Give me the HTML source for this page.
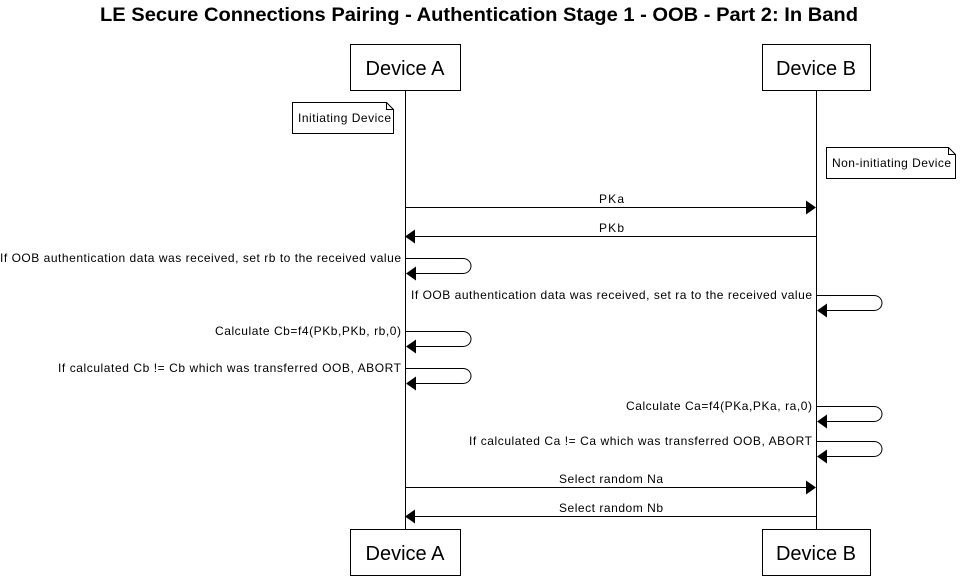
<!DOCTYPE html>
<html><head><style>body{margin:0;background:#fff}</style></head><body>
<svg width="968" height="577" xmlns="http://www.w3.org/2000/svg" font-family="Liberation Sans, Arial, sans-serif">
<rect width="968" height="577" fill="#fff"/>
<text x="100" y="21" font-size="19" font-weight="bold" textLength="758" lengthAdjust="spacingAndGlyphs">LE Secure Connections Pairing - Authentication Stage 1 - OOB - Part 2: In Band</text>
<g stroke="#000" fill="none" stroke-width="1">
<line x1="405.5" y1="90" x2="405.5" y2="529"/>
<line x1="816.5" y1="90" x2="816.5" y2="529"/>
<rect x="350.5" y="44.5" width="110" height="46" fill="#fff"/>
<rect x="762.5" y="44.5" width="108" height="46" fill="#fff"/>
<rect x="350.5" y="529.5" width="110" height="46" fill="#fff"/>
<rect x="762.5" y="529.5" width="108" height="46" fill="#fff"/>
<path d="M292.5 102.5H386.5L393.5 109.5V133.5H292.5Z M386.5 102.5V109.5H393.5" fill="#fff"/>
<path d="M826.5 147.5H948.5L955.5 154.5V178.5H826.5Z M948.5 147.5V154.5H955.5" fill="#fff"/>
<line x1="405" y1="207.5" x2="806" y2="207.5"/>
<line x1="816" y1="236.5" x2="415" y2="236.5"/>
<line x1="405" y1="487.5" x2="806" y2="487.5"/>
<line x1="816" y1="516.5" x2="415" y2="516.5"/>
<path d="M405 258.5H463a8 7.5 0 0 1 0 15H414"/>
<path d="M816 295.5H874a8 7.5 0 0 1 0 15H825"/>
<path d="M405 331.5H463a8 7.5 0 0 1 0 15H414"/>
<path d="M405 368.5H463a8 7.5 0 0 1 0 15H414"/>
<path d="M816 406.5H874a8 7.5 0 0 1 0 15H825"/>
<path d="M816 441.5H874a8 7.5 0 0 1 0 15H825"/>
</g>
<g fill="#000">
<path d="M816 207.5L806 200.5V214.5Z"/>
<path d="M405 236.5L415 229.5V243.5Z"/>
<path d="M816 487.5L806 480.5V494.5Z"/>
<path d="M405 516.5L415 509.5V523.5Z"/>
<path d="M406 273.5L416 266.5V280.5Z"/>
<path d="M817 310.5L827 303.5V317.5Z"/>
<path d="M406 346.5L416 339.5V353.5Z"/>
<path d="M406 383.5L416 376.5V390.5Z"/>
<path d="M817 421.5L827 414.5V428.5Z"/>
<path d="M817 456.5L827 449.5V463.5Z"/>
</g>
<g font-size="20" text-anchor="middle">
<text x="405" y="75">Device A</text>
<text x="816" y="75">Device B</text>
<text x="405" y="560">Device A</text>
<text x="816" y="560">Device B</text>
</g>
<g font-size="12" lengthAdjust="spacingAndGlyphs">
<text x="298" y="122" textLength="93">Initiating Device</text>
<text x="832" y="167" textLength="119">Non-initiating Device</text>
<text x="599" y="203" textLength="25">PKa</text>
<text x="599" y="232" textLength="25">PKb</text>
<text x="559" y="483" textLength="104">Select random Na</text>
<text x="559" y="512" textLength="104">Select random Nb</text>
<text x="0" y="262" textLength="401">If OOB authentication data was received, set rb to the received value</text>
<text x="411" y="299" textLength="401">If OOB authentication data was received, set ra to the received value</text>
<text x="215" y="335" textLength="186">Calculate Cb=f4(PKb,PKb, rb,0)</text>
<text x="58" y="372" textLength="343">If calculated Cb != Cb which was transferred OOB, ABORT</text>
<text x="626" y="410" textLength="186">Calculate Ca=f4(PKa,PKa, ra,0)</text>
<text x="469" y="445" textLength="343">If calculated Ca != Ca which was transferred OOB, ABORT</text>
</g>
</svg>
</body></html>
